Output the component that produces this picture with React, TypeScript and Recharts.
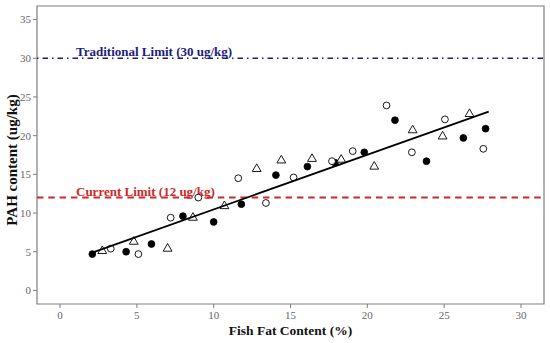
import {
  ScatterChart,
  Scatter,
  XAxis,
  YAxis,
  ReferenceLine,
  ReferenceArea,
} from "recharts";

// filled circles
const filledX = [2.1, 4.3, 5.95, 8.0, 10.0, 11.8, 14.05, 16.1, 17.9, 19.8, 21.8, 23.85, 26.25, 27.7];
const filledY = [4.7, 5.0, 6.0, 9.6, 8.85, 11.15, 14.9, 16.0, 16.5, 17.85, 22.0, 16.7, 19.7, 20.9];

// open circles
const openX = [3.3, 5.1, 7.2, 9.0, 11.6, 13.4, 15.2, 17.7, 19.05, 21.25, 22.9, 25.05, 27.55];
const openY = [5.4, 4.7, 9.4, 12.0, 14.5, 11.3, 14.6, 16.7, 18.0, 23.9, 17.85, 22.1, 18.3];

// triangles
const triX = [2.75, 4.8, 7.0, 8.65, 10.7, 12.8, 14.4, 16.4, 18.3, 20.45, 22.95, 24.9, 26.65];
const triY = [5.1, 6.3, 5.4, 9.4, 10.9, 15.7, 16.8, 17.0, 16.9, 16.0, 20.7, 19.9, 22.8];

// fitted line ends
const fitX = [2.1, 27.9];
const fitY = [4.9, 23.1];

const xTicks = [0, 5, 10, 15, 20, 25, 30];
const yTicks = [0, 5, 10, 15, 20, 25, 30, 35];

const traditionalLimit = 30;
const currentLimit = 12;

const zip = (xs: number[], ys: number[]) => xs.map((x, i) => ({ x, y: ys[i] }));

const filled = zip(filledX, filledY);
const open = zip(openX, openY);
const tri = zip(triX, triY);
const fit = zip(fitX, fitY);

const serif = "'Liberation Serif', 'Times New Roman', serif";
const navy = "#1c1c7e";
const red = "#cc2a2a";

const FilledDot = (p: any) => (
  <circle cx={p.cx} cy={p.cy} r={3.4} fill="#000" stroke="#000" strokeWidth={0.8} />
);
const OpenDot = (p: any) => (
  <circle cx={p.cx} cy={p.cy} r={3.4} fill="#fff" stroke="#000" strokeWidth={0.9} />
);
const TriDot = (p: any) => {
  const s = 8.8;
  const h = s * 0.866;
  const pts = `${p.cx},${p.cy - (2 * h) / 3} ${p.cx + s / 2},${p.cy + h / 3} ${p.cx - s / 2},${p.cy + h / 3}`;
  return <polygon points={pts} fill="#fff" stroke="#000" strokeWidth={0.9} />;
};

const LimitLabel = ({ viewBox, text, color }: any) => (
  <text
    x={viewBox.x + 39}
    y={viewBox.y - 2}
    fill={color}
    fontFamily={serif}
    fontWeight="bold"
    fontSize={13}
  >
    {text}
  </text>
);

export default function App() {
  return (
    <div style={{ width: 550, height: 343, background: "#fff" }}>
      <style>{"body{margin:0}"}</style>
      <ScatterChart
        width={550}
        height={343}
        margin={{ top: 6, right: 6, bottom: 0, left: 0 }}
      >
        <ReferenceArea
          x1={-1.5}
          x2={31.5}
          y1={-1.75}
          y2={36.75}
          fill="none"
          stroke="#7f7f7f"
          strokeWidth={1.2}
          fillOpacity={0}
        />
        <XAxis
          type="number"
          dataKey="x"
          domain={[-1.5, 31.5]}
          ticks={xTicks}
          height={39}
          axisLine={false}
          tickSize={4}
          tickMargin={3}
          tickLine={{ stroke: "#7f7f7f" }}
          tick={{ fill: "#666", fontFamily: serif, fontSize: 11 }}
          label={({ viewBox }: any) => (
            <text
              x={viewBox.x + viewBox.width / 2}
              y={viewBox.y + 31}
              textAnchor="middle"
              fontFamily={serif}
              fontWeight="bold"
              fontSize={13.5}
              fill="#111"
            >
              Fish Fat Content (%)
            </text>
          )}
        />
        <YAxis
          type="number"
          dataKey="y"
          domain={[-1.75, 36.75]}
          ticks={yTicks}
          width={37}
          axisLine={false}
          tickSize={4}
          tickMargin={2}
          tickLine={{ stroke: "#7f7f7f" }}
          tick={{ fill: "#666", fontFamily: serif, fontSize: 11 }}
          label={({ viewBox }: any) => {
            const cx = viewBox.x + 17;
            const cy = viewBox.y + viewBox.height / 2 + 5;
            return (
              <text
                x={cx}
                y={cy}
                transform={`rotate(-90 ${cx} ${cy})`}
                textAnchor="middle"
                fontFamily={serif}
                fontWeight="bold"
                fontSize={15}
                fill="#111"
              >
                PAH content (ug/kg)
              </text>
            );
          }}
        />
        <ReferenceLine
          y={traditionalLimit}
          stroke={navy}
          strokeWidth={1.7}
          strokeDasharray="1.5 4 5.5 4"
          label={<LimitLabel text="Traditional Limit (30 ug/kg)" color={navy} />}
        />
        <ReferenceLine
          y={currentLimit}
          stroke={red}
          strokeWidth={2}
          strokeDasharray="6.5 4.8"
          label={<LimitLabel text="Current Limit (12 ug/kg)" color={red} />}
        />
        <Scatter data={filled} shape={FilledDot} isAnimationActive={false} />
        <Scatter data={open} shape={OpenDot} isAnimationActive={false} />
        <Scatter data={tri} shape={TriDot} isAnimationActive={false} />
        <Scatter
          data={fit}
          line={{ stroke: "#000", strokeWidth: 1.8 }}
          shape={() => <g />}
          isAnimationActive={false}
        />
      </ScatterChart>
    </div>
  );
}
